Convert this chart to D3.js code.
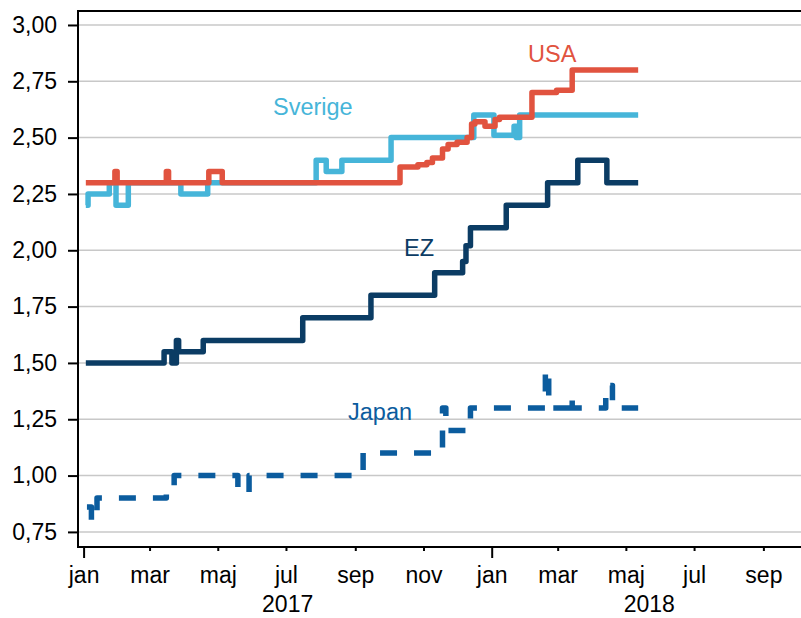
<!DOCTYPE html>
<html>
<head>
<meta charset="utf-8">
<script src="https://cdn.jsdelivr.net/npm/d3@7"></script>
<style>
  body { margin: 0; background: #fff; }
  svg text { font-family: "Liberation Sans", Arial, sans-serif; }
  .grid line { stroke: #c8c8c8; stroke-width: 1.5; }
  .series { fill: none; stroke-width: 5.5; stroke-linejoin: round; }
  .axis path, .axis line { stroke: #000; stroke-width: 2; }
  .axis text { font-size: 23px; fill: #000; }
</style>
</head>
<body>
<svg width="801" height="618"></svg>
<script>
// series data: change points (date, value)
const usaDates = ["2017-01-03","2017-01-29","2017-01-31","2017-03-16","2017-03-18","2017-04-23","2017-05-05",
  "2017-10-11","2017-10-27","2017-11-04","2017-11-09","2017-11-18","2017-11-23","2017-12-01","2017-12-10",
  "2017-12-14","2017-12-17","2017-12-26","2018-01-04","2018-01-08","2018-02-06","2018-02-28","2018-03-14","2018-05-12"];
const usaValues = [2.30,2.35,2.30,2.35,2.30,2.35,2.30,
  2.37,2.38,2.39,2.41,2.45,2.47,2.48,2.50,
  2.56,2.57,2.55,2.58,2.59,2.70,2.71,2.80,2.80];

const sverigeDates = ["2017-01-03","2017-01-05","2017-01-24","2017-01-30","2017-02-10","2017-03-29","2017-04-22",
  "2017-07-28","2017-08-06","2017-08-20","2017-10-03","2017-12-16","2018-01-03","2018-01-21","2018-01-23",
  "2018-01-26","2018-05-12"];
const sverigeValues = [2.20,2.25,2.30,2.20,2.30,2.25,2.30,
  2.40,2.35,2.40,2.50,2.60,2.51,2.55,2.50,
  2.60,2.60];

const ezDates = ["2017-01-03","2017-03-14","2017-03-21","2017-03-25","2017-03-27","2017-04-18","2017-07-16",
  "2017-09-15","2017-11-11","2017-12-06","2017-12-09","2017-12-13","2018-01-14","2018-02-20","2018-03-19",
  "2018-04-14","2018-05-12"];
const ezValues = [1.50,1.55,1.50,1.60,1.55,1.60,1.70,
  1.80,1.90,1.95,2.02,2.10,2.20,2.30,2.40,
  2.30,2.30];

const japanDates = ["2017-01-04","2017-01-08","2017-01-13","2017-03-16","2017-03-23","2017-05-19","2017-05-29",
  "2017-09-08","2017-11-18","2017-11-21","2017-12-13","2018-02-18","2018-02-21","2018-03-12","2018-03-14",
  "2018-04-13","2018-04-19","2018-05-12"];
const japanValues = [0.86,0.80,0.90,0.95,1.00,0.925,1.00,
  1.10,1.30,1.20,1.30,1.47,1.30,1.35,1.30,
  1.40,1.30,1.30];

const yTicks = [0.75, 1.00, 1.25, 1.50, 1.75, 2.00, 2.25, 2.50, 2.75, 3.00];
const monthNames = ["jan","feb","mar","apr","maj","jun","jul","aug","sep","okt","nov","dec"];
const years = [2017, 2018];

const parse = d3.utcParse("%Y-%m-%d");
const svg = d3.select("svg");

const x = d3.scaleUtc()
  .domain([parse("2016-12-27"), parse("2018-10-10")])
  .range([78, 807]);
const y = d3.scaleLinear()
  .domain([0.683, 3.062])
  .range([547, 11]);

// gridlines
svg.append("g").attr("class", "grid")
  .selectAll("line").data(yTicks).join("line")
  .attr("x1", 78).attr("x2", 807)
  .attr("y1", d => y(d)).attr("y2", d => y(d));

// frame
svg.append("rect")
  .attr("x", 78).attr("y", 11)
  .attr("width", 729).attr("height", 536)
  .attr("fill", "none").attr("stroke", "#000").attr("stroke-width", 2);

// y axis
const yAxis = svg.append("g").attr("class", "axis")
  .attr("transform", "translate(78,0)")
  .call(d3.axisLeft(y).tickValues(yTicks).tickSize(10).tickPadding(11)
    .tickFormat(d => d3.format(".2f")(d).replace(".", ",")));
yAxis.select(".domain").remove();

// x axis, tick every second month
const monthTicks = d3.utcMonth.every(2).range(parse("2017-01-01"), parse("2018-10-02"));
const xAxis = svg.append("g").attr("class", "axis")
  .attr("transform", "translate(0,547)")
  .call(d3.axisBottom(x).tickValues(monthTicks).tickSize(4).tickPadding(16)
    .tickFormat(d => monthNames[d.getUTCMonth()]));
xAxis.select(".domain").remove();
xAxis.selectAll(".tick line")
  .attr("y2", d => d.getUTCMonth() === 0 ? 11 : 4);

// year labels centred on the visible part of each year
svg.append("g").selectAll("text").data(years).join("text")
  .attr("x", yr => {
    const a = Math.max(x(parse(yr + "-01-01")), x.range()[0]);
    const b = Math.min(x(parse((yr + 1) + "-01-01")), x.range()[1]);
    return (a + b) / 2;
  })
  .attr("y", 612)
  .attr("text-anchor", "middle")
  .attr("font-size", 23)
  .text(yr => yr);

// series
const line = d3.line()
  .x(d => x(d.date))
  .y(d => y(d.value))
  .curve(d3.curveStepAfter);

function toPoints(dates, values) {
  return dates.map((d, i) => ({ date: parse(d), value: values[i] }));
}

const series = [
  { name: "Sverige", dates: sverigeDates, values: sverigeValues, color: "#46b5d9", dash: null, lx: 273, ly: 115 },
  { name: "USA", dates: usaDates, values: usaValues, color: "#e1533f", dash: null, lx: 528, ly: 62 },
  { name: "EZ", dates: ezDates, values: ezValues, color: "#0b3c64", dash: null, lx: 404, ly: 256 },
  { name: "Japan", dates: japanDates, values: japanValues, color: "#0b5c9e", dash: "17,17", lx: 348, ly: 420 }
];

svg.append("g").selectAll("path").data(series).join("path")
  .attr("class", "series")
  .attr("d", s => line(toPoints(s.dates, s.values)))
  .attr("stroke", s => s.color)
  .attr("stroke-dasharray", s => s.dash);

svg.append("g").selectAll("text").data(series).join("text")
  .attr("x", s => s.lx).attr("y", s => s.ly)
  .attr("font-size", 23.5)
  .attr("fill", s => s.color)
  .text(s => s.name);
</script>
</body>
</html>
